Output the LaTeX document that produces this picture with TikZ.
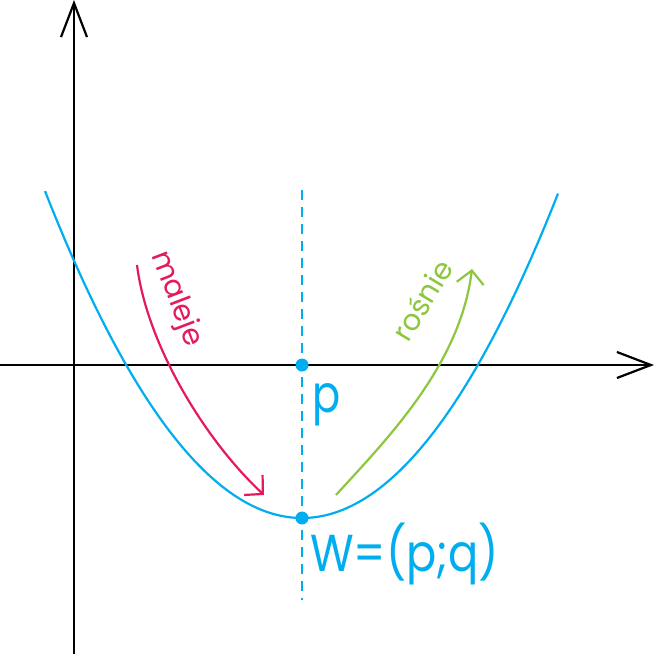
\documentclass[tikz,border=0pt]{standalone}
\usepackage{fontspec}
\usepackage{graphicx}
\setmainfont{Poppins}
\usetikzlibrary{arrows.meta}
\definecolor{cy}{HTML}{00AEEF}
\definecolor{mag}{HTML}{E5195E}
\definecolor{grn}{HTML}{8DC63F}
\begin{document}
\begin{tikzpicture}[x=1pt,y=-1pt,
  axisline/.style={line width=2.2pt,-{Straight Barb[length=34pt,width=26pt,line width=2.2pt]}},
  trend/.style={line width=2.2pt,-{Straight Barb[length=13pt,width=27pt,line width=2.2pt]}},
  dot/.style={circle,fill=cy,inner sep=0pt,minimum size=13pt},
  lbl/.style={text=cy,font=\fontsize{52}{52}\selectfont,inner sep=0pt},
  small/.style={font=\fontsize{29}{29}\selectfont,inner sep=0pt}]
\useasboundingbox (0,0) rectangle (654,654);
\fill[white] (0,0) rectangle (654,654);
% axes
\coordinate (xs) at (0,365);
\coordinate (xe) at (654,365);
\coordinate (ys) at (74,654);
\coordinate (ye) at (74,0);
\draw[axisline] (xs) -- (xe);
\draw[axisline] (ys) -- (ye);
% symmetry axis
\coordinate (ds) at (302,190);
\coordinate (de) at (302,600);
\draw[cy,line width=2.2pt,dash pattern=on 10pt off 7pt] (ds) -- (de);
% parabola
\draw[cy,line width=2.2pt,domain=-257:256,samples=120,smooth]
  plot ({\x+302},{518-0.495*(\x/10)*(\x/10)});
% points
\node[dot] (P) at (302,365) {};
\node[dot] (W) at (302,518) {};
\node[lbl,anchor=north west] (pl) at (312,383) {\scalebox{0.8}[1]{p}};
\node[lbl,anchor=north west] (wl) at (310,523) {\scalebox{0.86}[1]{W=(p;q)}};
% trend arrows
\coordinate (ms) at (137,265);
\coordinate (me) at (264,495);
\draw[mag,trend] (ms) .. controls (147,345) and (205,440) .. (me);
\node[small,text=mag,rotate=-69] (mt) at (176,299) {maleje};
\coordinate (gs) at (336,495);
\coordinate (ge) at (472,269);
\draw[grn,trend] (gs) .. controls (388,438) and (460,365) .. (ge);
\node[small,text=grn,rotate=59] (gt) at (422,300) {rośnie};
\end{tikzpicture}
\end{document}
